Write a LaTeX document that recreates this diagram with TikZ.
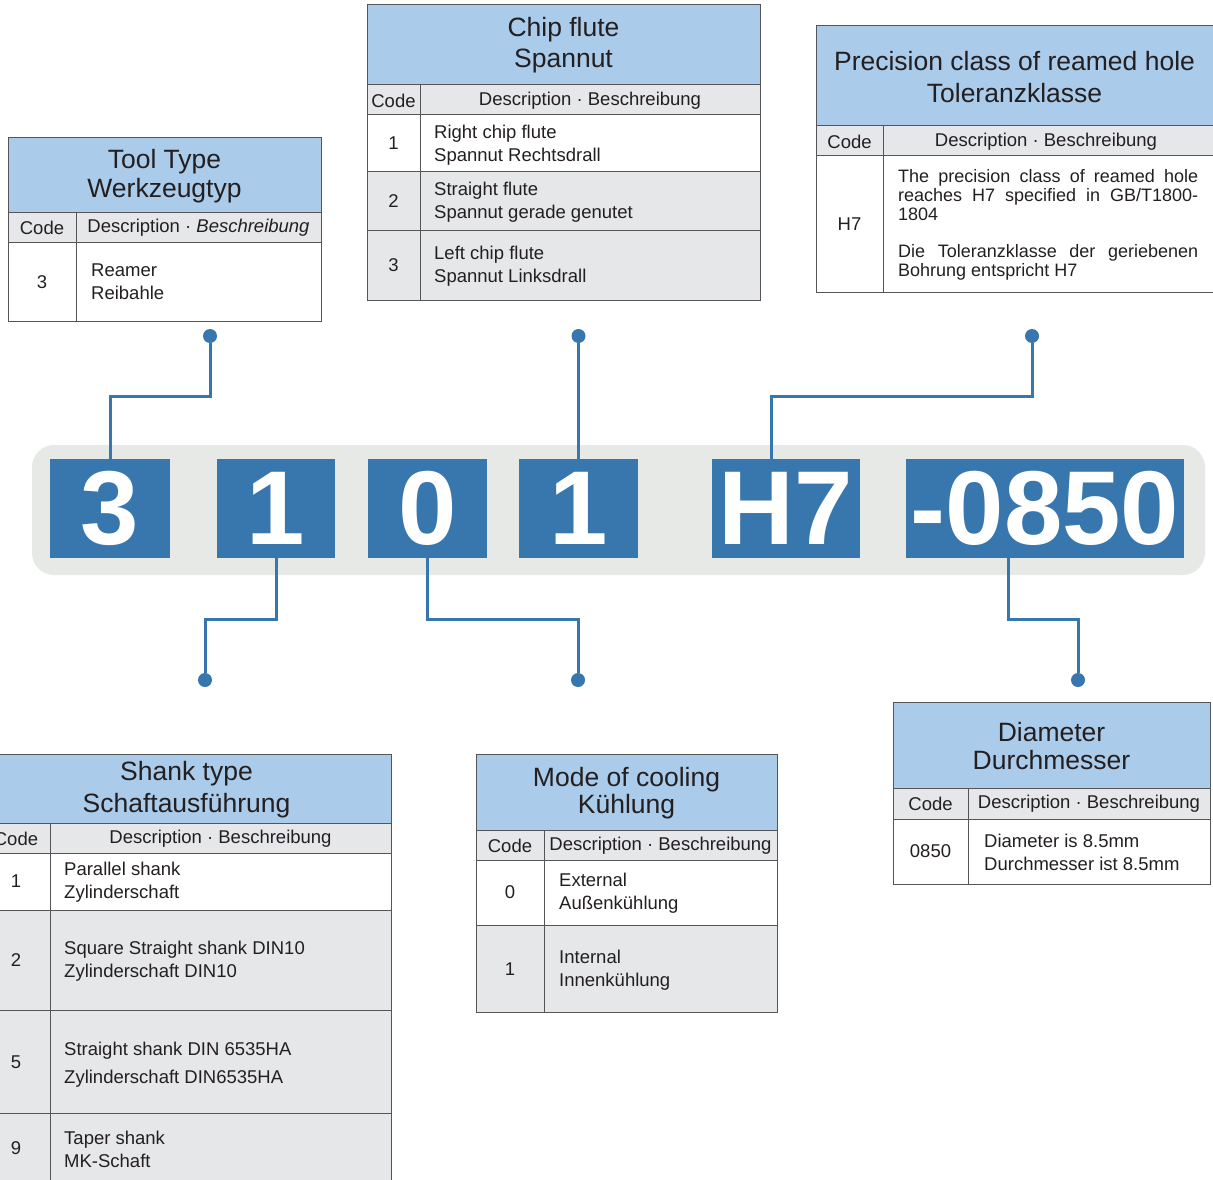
\documentclass[tikz,border=0pt]{standalone}
\usepackage{fontspec}
\setmainfont{Liberation Sans}
\definecolor{codeblue}{HTML}{3777AE}
\definecolor{hdrblue}{HTML}{AACBEA}
\definecolor{rowgrey}{HTML}{E6E7E8}
\definecolor{bargrey}{HTML}{E7E9E7}
\definecolor{linegrey}{HTML}{555558}
\definecolor{txt}{HTML}{231F20}
\tikzset{
 hdr/.style={fill=hdrblue},
 sub/.style={fill=rowgrey},
 grid/.style={draw=linegrey, line width=1pt},
 htext/.style={align=center, inner sep=0, text=txt, font=\fontsize{26.5}{31.5}\selectfont},
 ctext/.style={inner sep=0, text=txt, font=\fontsize{18.5}{23}\selectfont},
 dtext/.style={inner sep=0, anchor=west, align=left, text=txt, font=\fontsize{18.5}{23}\selectfont},
 ptext/.style={inner sep=0, anchor=west, align=left, text=txt, font=\fontsize{18}{18.7}\selectfont},
 codebox/.style={fill=codeblue, text=white, inner sep=0, font=\bfseries\fontsize{105}{105}\selectfont},
 conn/.style={draw=codeblue, line width=3pt},
 dot/.style={circle, fill=codeblue, minimum size=14pt, inner sep=0},
}
\begin{document}
\begin{tikzpicture}[x=1pt,y=-1pt]
\useasboundingbox (0,0) rectangle (1213,1180);

% ---------- code bar ----------
\fill[bargrey, rounded corners=22pt] (32,445) rectangle (1205,575);
\node[codebox, minimum width=120pt, minimum height=99pt] (c3) at (110,508.5) {3};
\node[codebox, minimum width=118pt, minimum height=99pt] (c1a) at (276,508.5) {1};
\node[codebox, minimum width=119pt, minimum height=99pt] (c0) at (427.5,508.5) {0};
\node[codebox, minimum width=119pt, minimum height=99pt] (c1b) at (578.5,508.5) {1};
\node[codebox, minimum width=148pt, minimum height=99pt] (cH7) at (786,508.5) {H7};
\node[codebox, minimum width=278pt, minimum height=99pt] (c0850) at (1045,508.5) {-0850};

% ---------- dots ----------
\node[dot] (dotT) at (210,336) {};
\node[dot] (dotC) at (578.5,336) {};
\node[dot] (dotP) at (1032,336) {};
\node[dot] (dotS) at (205,680) {};
\node[dot] (dotK) at (578,680) {};
\node[dot] (dotD) at (1078,680) {};

% ---------- connectors ----------
\draw[conn] (dotT) -- ++(0,60) -| (c3.north);
\draw[conn] (dotC) -- (c1b.north);
\draw[conn] (dotP) -- ++(0,60) -| ([xshift=-15pt]cH7.north);
\draw[conn] (c1a.south) -- ++(0,61) -| (dotS);
\draw[conn] (c0.south) -- ++(0,61) -| (dotK);
\draw[conn] ([xshift=-37pt]c0850.south) -- ++(0,61) -| (dotD);

% ---------- Tool Type ----------
\fill[hdr] (8,138) rectangle (321,212);
\fill[sub] (8,212) rectangle (321,242);
\draw[grid] (8,138) rectangle (321,321);
\draw[grid] (8,212) -- (321,212) (8,242) -- (321,242) (76,212) -- (76,321);
\node[htext, font=\fontsize{26.5}{29.5}\selectfont] (tTh) at (164.5,176) {Tool Type\\Werkzeugtyp};
\node[ctext] (tTc) at (42,228) {Code};
\node[ctext] (tTd) at (198.5,228) {Description · \textit{Beschreibung}};
\node[ctext] (tT1) at (42,282) {3};
\node[dtext] (tT1d) at (91,282) {Reamer\\Reibahle};

% ---------- Chip flute ----------
\fill[hdr] (367,5) rectangle (760,85);
\fill[sub] (367,85) rectangle (760,115);
\fill[sub] (367,172) rectangle (760,300);
\draw[grid] (367,5) rectangle (760,300);
\draw[grid] (367,85) -- (760,85) (367,115) -- (760,115) (367,172) -- (760,172) (367,230) -- (760,230) (420,85) -- (420,300);
\node[htext] (tCh) at (563.5,45) {Chip flute\\Spannut};
\node[ctext] (tCc) at (393.5,101) {Code};
\node[ctext] (tCd) at (590,101) {Description · Beschreibung};
\node[ctext] (tC1) at (393.5,143.5) {1};
\node[dtext] (tC1d) at (434,145) {Right chip flute\\Spannut Rechtsdrall};
\node[ctext] (tC2) at (393.5,201) {2};
\node[dtext] (tC2d) at (434,202) {Straight flute\\Spannut gerade genutet};
\node[ctext] (tC3) at (393.5,265) {3};
\node[dtext] (tC3d) at (434,266.5) {Left chip flute\\Spannut Linksdrall};

% ---------- Precision class ----------
\fill[hdr] (816,26) rectangle (1225,126);
\fill[sub] (816,126) rectangle (1225,156);
\draw[grid] (816,26) rectangle (1225,292);
\draw[grid] (816,126) -- (1225,126) (816,156) -- (1225,156) (883,126) -- (883,292);
\node[htext] (tPh) at (1014.5,77) {Precision class of reamed hole\\Toleranzklasse};
\node[ctext] (tPc) at (849.5,142) {Code};
\node[ctext] (tPd) at (1046,142) {Description · Beschreibung};
\node[ctext] (tP1) at (849.5,224) {H7};
\node[ptext] (tP1d) at (898,225) {\makebox[300pt][s]{The precision class of reamed hole}\\\makebox[300pt][s]{reaches H7 specified in GB/T1800-}\\1804\\[18.7pt]\makebox[300pt][s]{Die Toleranzklasse der geriebenen}\\Bohrung entspricht H7};

% ---------- Shank type ----------
\fill[hdr] (-18,754) rectangle (391,823);
\fill[sub] (-18,823) rectangle (391,853);
\fill[sub] (-18,910) rectangle (391,1190);
\draw[grid] (-18,754) rectangle (391,1190);
\draw[grid] (-18,823) -- (391,823) (-18,853) -- (391,853) (-18,910) -- (391,910) (-18,1010) -- (391,1010) (-18,1113) -- (391,1113) (50,823) -- (50,1190);
\node[htext] (tSh) at (186.5,789.5) {Shank type\\Schaftausführung};
\node[ctext] (tSc) at (16,839) {Code};
\node[ctext] (tSd) at (220.5,839) {Description · Beschreibung};
\node[ctext] (tS1) at (16,881.5) {1};
\node[dtext] (tS1d) at (64,882.5) {Parallel shank\\Zylinderschaft};
\node[ctext] (tS2) at (16,960) {2};
\node[dtext] (tS2d) at (64,961) {Square Straight shank DIN10\\Zylinderschaft DIN10};
\node[ctext] (tS3) at (16,1062) {5};
\node[dtext, font=\fontsize{18.5}{28}\selectfont] (tS3d) at (64,1065) {Straight shank DIN 6535HA\\Zylinderschaft DIN6535HA};
\node[ctext] (tS4) at (16,1148) {9};
\node[dtext] (tS4d) at (64,1149.5) {Taper shank\\MK-Schaft};

% ---------- Mode of cooling ----------
\fill[hdr] (476,754) rectangle (777,830);
\fill[sub] (476,830) rectangle (777,860);
\fill[sub] (476,925) rectangle (777,1012);
\draw[grid] (476,754) rectangle (777,1012);
\draw[grid] (476,830) -- (777,830) (476,860) -- (777,860) (476,925) -- (777,925) (544,830) -- (544,1012);
\node[htext, font=\fontsize{26.5}{27.5}\selectfont] (tKh) at (626.5,793) {Mode of cooling\\Kühlung};
\node[ctext] (tKc) at (510,846) {Code};
\node[ctext] (tKd) at (660.5,846) {Description · Beschreibung};
\node[ctext] (tK1) at (510,892.5) {0};
\node[dtext] (tK1d) at (559,893.5) {External\\Außenkühlung};
\node[ctext] (tK2) at (510,969) {1};
\node[dtext] (tK2d) at (559,970) {Internal\\Innenkühlung};

% ---------- Diameter ----------
\fill[hdr] (893,702) rectangle (1210,788);
\fill[sub] (893,788) rectangle (1210,819);
\draw[grid] (893,702) rectangle (1210,884);
\draw[grid] (893,788) -- (1210,788) (893,819) -- (1210,819) (968,788) -- (968,884);
\node[htext, font=\fontsize{26.5}{27.5}\selectfont] (tDh) at (1051.5,746) {Diameter\\Durchmesser};
\node[ctext] (tDc) at (930.5,804) {Code};
\node[ctext] (tDd) at (1089,804) {Description · Beschreibung};
\node[ctext] (tD1) at (930.5,851.5) {0850};
\node[dtext] (tD1d) at (984,852.5) {Diameter is 8.5mm\\Durchmesser ist 8.5mm};
\end{tikzpicture}
\end{document}
